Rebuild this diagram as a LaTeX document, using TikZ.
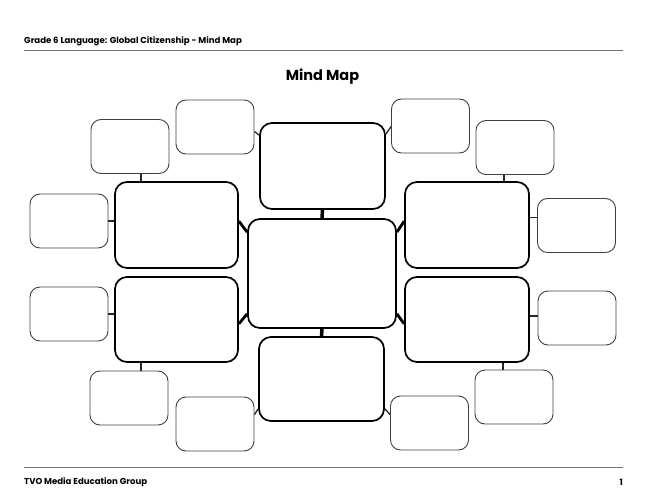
\documentclass[tikz,border=0pt]{standalone}
\usepackage{fontspec}
\setmainfont{Poppins}
\usepackage{tikz}
\usetikzlibrary{calc}

\begin{document}
\begin{tikzpicture}[
        x=1pt, y=-1pt,
        mainbox/.style={rectangle, draw, line width=1.7pt, rounded corners=12pt, fill=white},
        leafbox/.style={rectangle, draw=black!75, line width=0.9pt, rounded corners=10pt, minimum width=78pt, minimum height=54pt, fill=white},
        stem/.style={line width=3.5pt},
        fork/.style={line width=2.8pt},
        twig/.style={line width=1.3pt, draw=black!85},
        rule/.style={draw=black!55, line width=0.9pt},
        small/.style={font=\fontsize{8.6}{10}\selectfont\bfseries},
        inner sep=0pt
    ]
        \useasboundingbox (0,0) rectangle (647,500);

        % Page head and foot
        \node[small, anchor=west] (head) at (24,41) {Grade 6 Language: Global Citizenship - Mind Map};
        \draw[rule] (24,50) -- (623,50);
        \node[font=\fontsize{14.5}{16}\selectfont\bfseries] (title) at (322.5,77) {Mind Map};
        \draw[rule] (24,467) -- (623,467);
        \node[small, anchor=west] (foot) at (24,482) {TVO Media Education Group};
        \node[small, anchor=east] (page) at (623,482) {1};

        % Centre and main branches
        \node[mainbox, minimum width=148pt, minimum height=109pt] (c) at (322,273.5) {};
        \node[mainbox, minimum width=125pt, minimum height=86pt] (t) at (322.5,166) {};
        \node[mainbox, minimum width=125pt, minimum height=84pt] (b) at (321.5,379) {};
        \node[mainbox, minimum width=123pt, minimum height=86pt] (lu) at (176.5,225) {};
        \node[mainbox, minimum width=123pt, minimum height=85pt] (ll) at (176.5,319.5) {};
        \node[mainbox, minimum width=124pt, minimum height=86pt] (ru) at (467,225) {};
        \node[mainbox, minimum width=124pt, minimum height=85pt] (rl) at (467,319.5) {};

        % Leaves
        \node[leafbox] (tl1) at (215,127) {};
        \node[leafbox] (tl2) at (130,146.5) {};
        \node[leafbox] (l1) at (69,221) {};
        \node[leafbox] (l2) at (69,314) {};
        \node[leafbox] (bl2) at (129,398) {};
        \node[leafbox] (bl1) at (215,424) {};
        \node[leafbox] (tr1) at (430.5,126) {};
        \node[leafbox] (tr2) at (515,147.5) {};
        \node[leafbox] (r1) at (576.5,225.5) {};
        \node[leafbox] (r2) at (577,318) {};
        \node[leafbox] (br2) at (514,397) {};
        \node[leafbox] (br1) at (429.5,423) {};

        % Centre links
        \draw[stem] (t.south) -- (c.north);
        \draw[stem] (c.south) -- (b.north);
        \draw[fork] ($(lu.north east)+(0,40)$) -- ($(c.north west)+(0,14)$);
        \draw[fork] ($(ll.south east)+(0,-39)$) -- ($(c.south west)+(0,-15)$);
        \draw[fork] ($(ru.north west)+(0,40)$) -- ($(c.north east)+(0,14)$);
        \draw[fork] ($(rl.south west)+(0,-39)$) -- ($(c.south east)+(0,-15)$);

        % Leaf links
        \draw[twig] ($(tl1.north east)+(0,32)$) -- ($(t.north west)+(0,13)$);
        \draw[twig] ($(tr1.north west)+(0,28)$) -- ($(t.north east)+(0,12)$);
        \draw[twig] ($(bl1.north east)+(0,18)$) -- ($(b.south west)+(0,-13)$);
        \draw[twig] ($(br1.north west)+(0,19)$) -- ($(b.south east)+(0,-13)$);
        \draw[twig] ($(tl2.south)+(11,0)$) coordinate (a1) -- (a1 |- lu.north);
        \draw[twig] ($(bl2.north)+(12,0)$) coordinate (a2) -- (a2 |- ll.south);
        \draw[twig] ($(tr2.south)+(-11,0)$) coordinate (a3) -- (a3 |- ru.north);
        \draw[twig] ($(br2.north)+(-11,0)$) coordinate (a4) -- (a4 |- rl.south);
        \draw[twig] (l1.east) -- (l1.east -| lu.west);
        \draw[twig] (l2.east) -- (l2.east -| ll.west);
        \draw[twig] ($(r1.west)+(0,-8)$) coordinate (a5) -- (a5 -| ru.east);
        \draw[twig] ($(r2.west)+(0,-2)$) coordinate (a6) -- (a6 -| rl.east);
\end{tikzpicture}
\end{document}
